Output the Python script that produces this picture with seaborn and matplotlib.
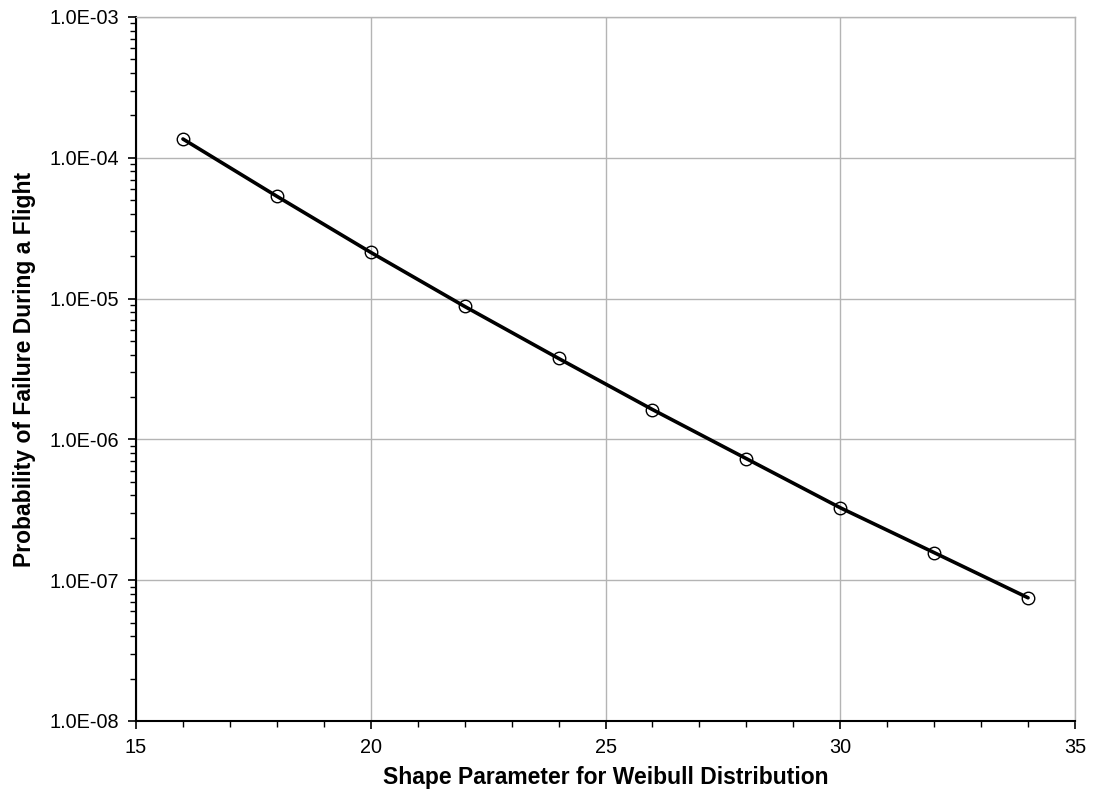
import numpy as np
import pandas as pd
import seaborn as sns
import matplotlib
matplotlib.use("Agg")
import matplotlib.pyplot as plt
from matplotlib.ticker import MultipleLocator, LogLocator, FuncFormatter, NullFormatter

shape = [16, 18, 20, 22, 24, 26, 28, 30, 32, 34]
prob = [1.36e-4, 5.33e-5, 2.13e-5, 8.8e-6, 3.76e-6, 1.63e-6, 7.3e-7, 3.27e-7, 1.57e-7, 7.5e-8]
xlabel = "Shape Parameter for Weibull Distribution"
ylabel = "Probability of Failure During a Flight"

df = pd.DataFrame({"shape": shape, "prob": prob})

sns.set_theme(style="white")
plt.rcParams['font.family'] = ['Liberation Sans', 'DejaVu Sans']
plt.rcParams['text.color'] = 'black'
plt.rcParams['axes.labelcolor'] = 'black'
plt.rcParams['xtick.color'] = 'black'
plt.rcParams['ytick.color'] = 'black'

fig = plt.figure(figsize=(10.95, 7.92), dpi=100)
ax = fig.add_axes([136/1095, 1 - 721/792, (1075-136)/1095, (721-17)/792])

sns.lineplot(data=df, x="shape", y="prob", ax=ax, color="black", linewidth=2.6,
             marker="o", markersize=9, markerfacecolor="none", markeredgecolor="black",
             markeredgewidth=1.0, zorder=3)

ax.set_yscale("log")
ax.set_xlim(15, 35)
ax.set_ylim(1e-8, 1e-3)
ax.xaxis.set_major_locator(MultipleLocator(5))
ax.xaxis.set_minor_locator(MultipleLocator(1))
ax.yaxis.set_major_locator(LogLocator(base=10, numticks=20))
ax.yaxis.set_minor_locator(LogLocator(base=10, subs=np.arange(2, 10), numticks=20))
ax.yaxis.set_minor_formatter(NullFormatter())
ax.yaxis.set_major_formatter(FuncFormatter(lambda v, p: "1.0E-%02d" % int(round(-np.log10(v)))))

ax.grid(True, which="major", color="#b4b4b4", linewidth=1.0)
ax.set_axisbelow(True)
for s in ["left", "bottom"]:
    ax.spines[s].set_color("black")
    ax.spines[s].set_linewidth(1.5)
for s in ["top", "right"]:
    ax.spines[s].set_color("#b4b4b4")
    ax.spines[s].set_linewidth(1.0)

ax.tick_params(axis="both", which="major", direction="out", length=6, width=1.2, color="black",
               labelsize=14.3, labelcolor="black", bottom=True, left=True, pad=6)
ax.tick_params(axis="both", which="minor", direction="out", length=4, width=1.0, color="black",
               bottom=True, left=True)

ax.set_xlabel(xlabel, fontsize=16.5, fontweight="bold", labelpad=7, color="black")
ax.set_ylabel(ylabel, fontsize=16.5, fontweight="bold", labelpad=10, color="black")

fig.savefig("out.png", dpi=100)
